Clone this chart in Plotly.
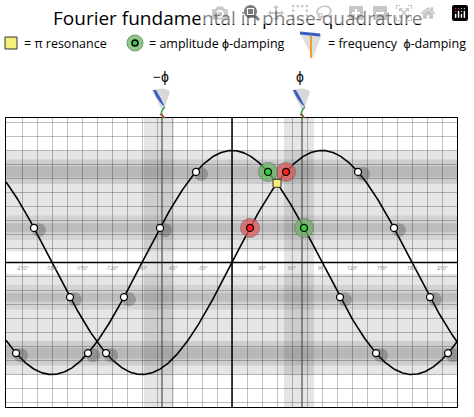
import numpy as np
import plotly.graph_objects as go

# data (degrees)
sin_white = [-198, -162, -126, 126, 162, 198]
sin_red = [18, 54]
cos_white = [-216, -144, -108, -72, -36, 108, 144, 216]
cos_green = [36, 72]
resonance_x = [45]
phi = 70
x_ticks = [-210, -180, -150, -120, -90, -60, -30, 30, 60, 90, 120, 150, 180, 210]

XR = [-226, 225]
YR = [-1.29, 1.29]
L, R, T, B = 6, 17, 118, 10
W, H = 474, 417
pw, ph = W - L - R, H - T - B

def px(xp):  # pixel -> paper x
    return (xp - L) / pw
def py(yp):
    return 1 + (T - yp) / ph

rad = np.pi / 180
xs = np.linspace(XR[0], XR[1], 600)
fig = go.Figure()

shapes = []
for y0, y1, c in [(0.1, 1.0, 0.10), (-1.0, -0.1, 0.10), (0.2, 0.42, 0.08), (-0.42, -0.2, 0.08),
                  (0.7, 0.92, 0.10), (-0.92, -0.7, 0.10), (0.27, 0.35, 0.10), (-0.35, -0.27, 0.10),
                  (0.76, 0.86, 0.10), (-0.86, -0.76, 0.10)]:
    shapes.append(dict(type="rect", xref="x", yref="y", x0=XR[0], x1=XR[1], y0=y0, y1=y1,
                       fillcolor=f"rgba(0,0,0,{c})", line_width=0, layer="below"))
for c in [-phi, phi]:
    shapes.append(dict(type="rect", xref="x", yref="y", x0=c - 18, x1=c + 12, y0=YR[0], y1=YR[1],
                       fillcolor="rgba(0,0,0,0.10)", line_width=0, layer="below"))
    shapes.append(dict(type="line", xref="x", yref="y", x0=c, x1=c, y0=YR[0], y1=YR[1],
                       line=dict(color="rgba(80,80,80,0.6)", width=2), layer="below"))
shapes.append(dict(type="line", xref="x", yref="y", x0=XR[0], x1=XR[1], y0=0, y1=0, line=dict(color="black", width=1.5)))
shapes.append(dict(type="line", xref="x", yref="y", x0=0, x1=0, y0=YR[0], y1=YR[1], line=dict(color="black", width=1.5)))
shapes.append(dict(type="rect", xref="paper", yref="paper", x0=px(5), x1=px(17), y0=py(49), y1=py(37),
                   fillcolor="#f4f07a", line=dict(color="#333", width=1)))
shapes.append(dict(type="circle", xref="paper", yref="paper", x0=px(127), x1=px(143), y0=py(51), y1=py(35),
                   fillcolor="#8fc88a", line=dict(color="#6a9e66", width=1)))
shapes.append(dict(type="circle", xref="paper", yref="paper", x0=px(132), x1=px(138), y0=py(46), y1=py(40),
                   fillcolor="#2ecc40", line=dict(color="black", width=1.5)))
shapes.append(dict(type="path", xref="paper", yref="paper",
                   path=f"M {px(300)},{py(33)} L {px(322)},{py(34)} L {px(313)},{py(58)} Z",
                   fillcolor="rgba(200,200,200,0.6)", line_width=0))
shapes.append(dict(type="line", xref="paper", yref="paper", x0=px(311), x1=px(311), y0=py(36), y1=py(58),
                   line=dict(color="#f0a030", width=2)))
shapes.append(dict(type="line", xref="paper", yref="paper", x0=px(300), x1=px(320), y0=py(33), y1=py(35),
                   line=dict(color="#3b5fc0", width=3)))
for c in [-phi, phi]:
    xp = 232 + c
    shapes.append(dict(type="path", xref="paper", yref="paper",
                       path=f"M {px(xp-10)},{py(90)} Q {px(xp+4)},{py(86)} {px(xp+8)},{py(92)} L {px(xp+1)},{py(112)} Z",
                       fillcolor="rgba(200,200,200,0.7)", line_width=0))
    shapes.append(dict(type="path", xref="paper", yref="paper",
                       path=f"M {px(xp-9)},{py(90)} Q {px(xp-4)},{py(102)} {px(xp+3)},{py(107)} Q {px(xp-1)},{py(98)} {px(xp-6)},{py(90)} Z",
                       fillcolor="#3b5fc0", line_width=0))
    shapes.append(dict(type="path", xref="paper", yref="paper",
                       path=f"M {px(xp+3)},{py(107)} Q {px(xp-3)},{py(112)} {px(xp+1)},{py(116)} L {px(xp)},{py(119)}",
                       line=dict(color="#2a9a3a", width=1.5)))
    shapes.append(dict(type="line", xref="paper", yref="paper", x0=px(xp-2), x1=px(xp+3), y0=py(114), y1=py(118),
                       line=dict(color="#c03030", width=1.5)))

fig.add_trace(go.Scatter(x=xs, y=np.sin(xs * rad), mode="lines", line=dict(color="black", width=1.6), hoverinfo="skip"))
fig.add_trace(go.Scatter(x=xs, y=np.cos(xs * rad), mode="lines", line=dict(color="black", width=1.6), hoverinfo="skip"))

def pts(xv, f):
    return np.array(xv), f(np.array(xv) * rad)

for xv, f in [(sin_white, np.sin), (cos_white, np.cos)]:
    a, b = pts(xv, f)
    fig.add_trace(go.Scatter(x=a + 5, y=b - 0.02, mode="markers",
                             marker=dict(size=14, color="rgba(60,60,60,0.3)", line_width=0), hoverinfo="skip"))
for xv, f in [(sin_white, np.sin), (cos_white, np.cos)]:
    a, b = pts(xv, f)
    fig.add_trace(go.Scatter(x=a, y=b, mode="markers",
                             marker=dict(size=7, color="white", line=dict(color="black", width=1.3))))
for xv, f, big, small in [(sin_red, np.sin, "rgba(225,90,90,0.75)", "#ff2020"),
                          (cos_green, np.cos, "rgba(110,180,100,0.75)", "#30d040")]:
    a, b = pts(xv, f)
    fig.add_trace(go.Scatter(x=a, y=b, mode="markers",
                             marker=dict(size=19, color=big, line=dict(color="rgba(90,90,90,0.5)", width=1))))
    fig.add_trace(go.Scatter(x=a, y=b, mode="markers",
                             marker=dict(size=7, color=small, line=dict(color="black", width=1.3))))
a, b = pts(resonance_x, np.sin)
fig.add_trace(go.Scatter(x=a, y=b, mode="markers",
                         marker=dict(symbol="square", size=8, color="#f4f07a", line=dict(color="#333", width=1))))

def txt(s, x, y, size, xanchor="center"):
    return dict(text=s, xref="paper", yref="paper", x=px(x), y=py(y), xanchor=xanchor, yanchor="middle",
                showarrow=False, font=dict(size=size, color="black"))

ann = [txt("Fourier fundamental in phase-quadrature", 237, 18, 19),
       txt("= π resonance", 22, 43, 12.5, "left"),
       txt("= amplitude ϕ-damping", 147, 43, 12.5, "left"),
       txt("= frequency  ϕ-damping", 326, 43, 12.5, "left"),
       txt("−ϕ", 161, 76, 14),
       txt("ϕ", 300, 76, 14)]
for t in x_ticks:
    ann.append(dict(text=f"{t}°", x=t, y=-0.05, xref="x", yref="y", showarrow=False, font=dict(size=5, color="#777")))

fig.update_layout(width=W, height=H, margin=dict(l=L, r=R, t=T, b=B), showlegend=False,
                  paper_bgcolor="white", plot_bgcolor="white", shapes=shapes, annotations=ann,
                  font=dict(family="Open Sans, sans-serif", color="#222"))
fig.update_xaxes(range=XR, dtick=15, tick0=0, showgrid=True, gridcolor="rgba(0,0,0,0.25)", gridwidth=1,
                 showticklabels=False, zeroline=False, showline=True, linecolor="black", mirror=True, ticks="")
fig.update_yaxes(range=YR, dtick=0.125, tick0=0, showgrid=True, gridcolor="rgba(0,0,0,0.25)", gridwidth=1,
                 showticklabels=False, zeroline=False, showline=True, linecolor="black", mirror=True, ticks="")
fig.write_html("out.html", post_script="document.body.style.margin='0';")
